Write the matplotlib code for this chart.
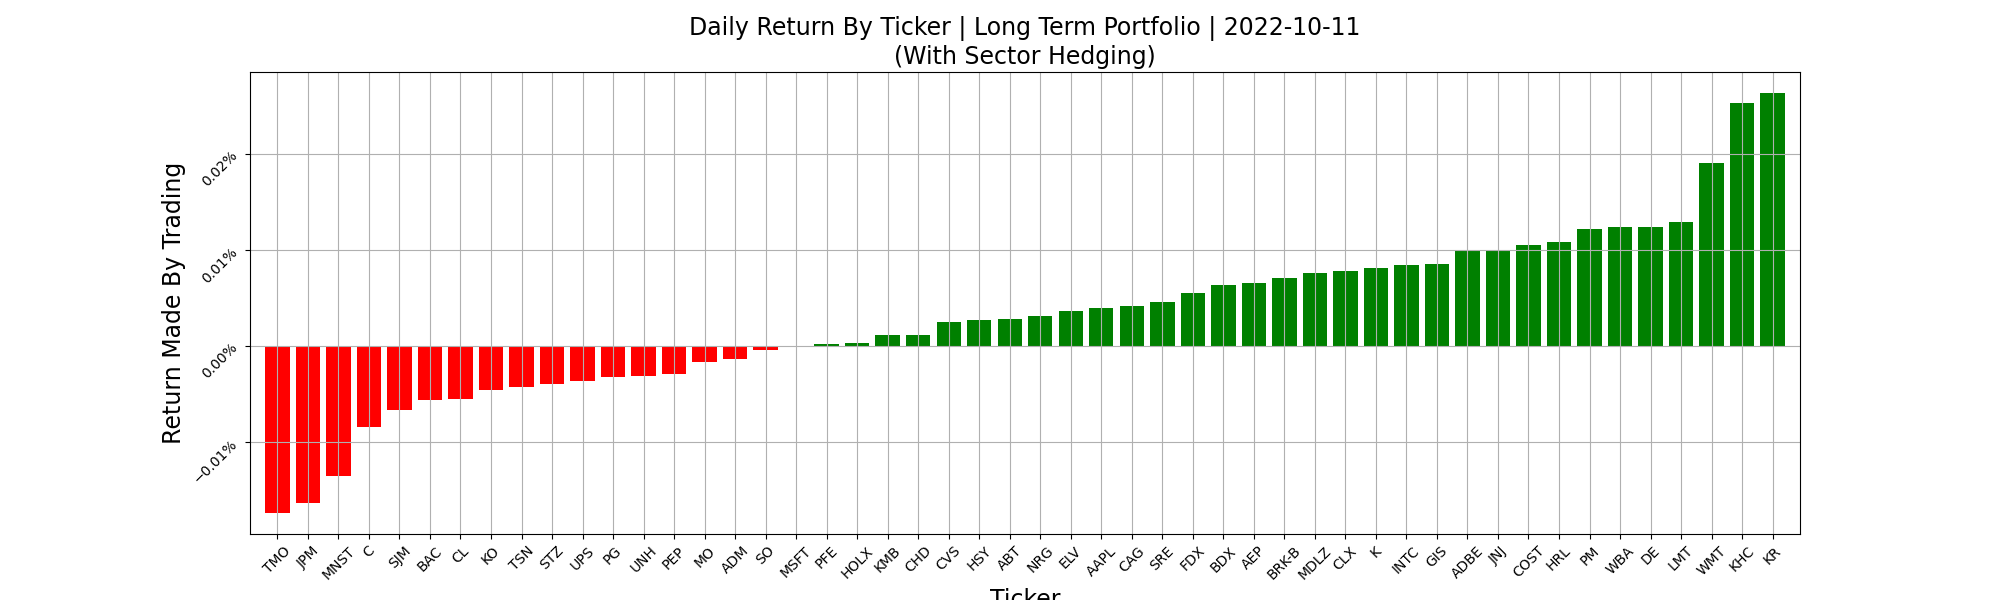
import matplotlib
matplotlib.use("Agg")
import matplotlib.pyplot as plt
from matplotlib.ticker import PercentFormatter

tickers = ["TMO", "JPM", "MNST", "C", "SJM", "BAC", "CL", "KO", "TSN", "STZ",
           "UPS", "PG", "UNH", "PEP", "MO", "ADM", "SO", "MSFT", "PFE", "HOLX",
           "KMB", "CHD", "CVS", "HSY", "ABT", "NRG", "ELV", "AAPL", "CAG", "SRE",
           "FDX", "BDX", "AEP", "BRK-B", "MDLZ", "CLX", "K", "INTC", "GIS", "ADBE",
           "JNJ", "COST", "HRL", "PM", "WBA", "DE", "LMT", "WMT", "KHC", "KR"]

# daily returns in percent
returns_pct = [-0.01738, -0.01634, -0.01352, -0.00841, -0.00664, -0.00560, -0.00550,
               -0.00455, -0.00424, -0.00393, -0.00362, -0.00320, -0.00310, -0.00289,
               -0.00163, -0.00132, -0.00038, 0.0, 0.00021, 0.00031,
               0.00115, 0.00115, 0.00250, 0.00271, 0.00282, 0.00313, 0.00365,
               0.00396, 0.00417, 0.00459, 0.00553, 0.00636, 0.00657, 0.00709,
               0.00761, 0.00782, 0.00813, 0.00845, 0.00855, 0.00994, 0.00994,
               0.01053, 0.01085, 0.01220, 0.01241, 0.01241, 0.01293, 0.01905,
               0.02534, 0.02638]

colors = ["red" if v < 0 else "green" for v in returns_pct]

fig, ax = plt.subplots(figsize=(20, 6), dpi=100)
ax.bar(tickers, returns_pct, color=colors, width=0.8)
ax.margins(x=0.01)
ax.grid(True)
ax.yaxis.set_major_formatter(PercentFormatter(xmax=100, decimals=2))
ax.tick_params(axis="x", labelrotation=45)
ax.tick_params(axis="y", labelrotation=45)
ax.set_title("Daily Return By Ticker | Long Term Portfolio | 2022-10-11\n(With Sector Hedging)",
             fontsize=17)
ax.set_ylabel("Return Made By Trading", fontsize=17)
ax.set_xlabel("Ticker", fontsize=17)
fig.savefig("out.png", dpi=100)
